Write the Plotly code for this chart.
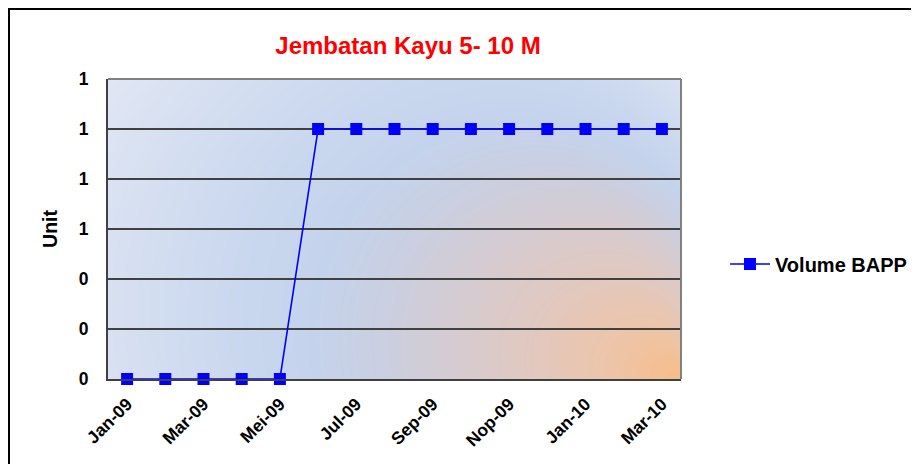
import base64, struct, zlib
import numpy as np
import plotly.graph_objects as go

# ---- data ----
months = ["Jan-09", "Feb-09", "Mar-09", "Apr-09", "Mei-09", "Jun-09", "Jul-09", "Agu-09",
          "Sep-09", "Okt-09", "Nop-09", "Des-09", "Jan-10", "Feb-10", "Mar-10"]
volume_bapp = [0, 0, 0, 0, 0, 1, 1, 1, 1, 1, 1, 1, 1, 1, 1]
shown_ticks = ["Jan-09", "Mar-09", "Mei-09", "Jul-09", "Sep-09", "Nop-09", "Jan-10", "Mar-10"]
y_tickvals = [0, 0.2, 0.4, 0.6, 0.8, 1.0, 1.2]

FONT = "Liberation Sans, Arial, sans-serif"

# plot area in figure pixels (page has an 8px body margin)
PL, PR, PT, PB = 100, 673, 71, 371
PW, PH = PR - PL, PB - PT

# ---- gradient background image (style only): radial gradient, focal point at bottom-right ----
W, H = PW, PH
xx, yy = np.meshgrid(np.arange(W) + 0.5, np.arange(H) + 0.5)
Fx, Fy = W, H
Ex, Ey = -282.0, -84.0
R = 374.0
Dx, Dy = xx - Fx, yy - Fy
DE = Dx * Ex + Dy * Ey
DD = Dx ** 2 + Dy ** 2
a = Ex ** 2 + Ey ** 2 - R ** 2
t = (DE - np.sqrt(DE ** 2 - a * DD)) / a
stops = [0.0, 0.1, 0.22, 0.34, 0.46, 0.56, 0.72, 0.9, 1.0]
cr = [247, 238, 226, 214, 202, 196, 204, 218, 226]
cg = [189, 196, 200, 203, 207, 211, 217, 226, 231]
cb = [136, 166, 190, 208, 225, 236, 239, 242, 244]
img = np.stack([np.interp(t, stops, cr), np.interp(t, stops, cg), np.interp(t, stops, cb)], axis=-1)
img = np.clip(np.round(img), 0, 255).astype(np.uint8)


def to_png(arr):
    h, w, _ = arr.shape
    raw = b"".join(b"\x00" + arr[i].tobytes() for i in range(h))

    def chunk(tag, data):
        c = struct.pack(">I", len(data)) + tag + data
        return c + struct.pack(">I", zlib.crc32(tag + data) & 0xffffffff)

    return (b"\x89PNG\r\n\x1a\n" + chunk(b"IHDR", struct.pack(">IIBBBBB", w, h, 8, 2, 0, 0, 0))
            + chunk(b"IDAT", zlib.compress(raw, 9)) + chunk(b"IEND", b""))


bg_src = "data:image/png;base64," + base64.b64encode(to_png(img)).decode()


def px(x):
    return (x - PL) / PW


def py(y):
    return (PB - y) / PH


fig = go.Figure()
fig.add_trace(go.Scatter(
    x=months, y=volume_bapp, mode="lines+markers", name="Volume BAPP",
    line=dict(color="#0000ff", width=1.6),
    marker=dict(symbol="square", size=12, color="#0000ff", line=dict(width=0)),
    cliponaxis=False,
))

fig.update_layout(
    width=919, height=464,
    margin=dict(l=PL, r=919 - PR, t=PT, b=464 - PB),
    paper_bgcolor="white", plot_bgcolor="rgba(0,0,0,0)",
    font=dict(family=FONT, color="black", size=17),
    title=dict(text="Jembatan Kayu 5- 10 M", x=px(400), xref="paper", xanchor="center",
               y=1 - 38 / 464, yref="container", yanchor="middle",
               font=dict(family=FONT, size=24, color="#ff0000", weight="bold")),
    showlegend=True,
    legend=dict(x=px(717), y=py(256), xanchor="left", yanchor="middle",
                bgcolor="rgba(0,0,0,0)", itemwidth=40,
                font=dict(family=FONT, size=20, color="black", weight="bold")),
    images=[dict(source=bg_src, xref="paper", yref="paper", x=0, y=1, sizex=1, sizey=1,
                 sizing="stretch", layer="below", xanchor="left", yanchor="top")],
    shapes=[dict(type="rect", xref="paper", yref="paper",
                 x0=px(1), x1=px(940), y0=py(480), y1=py(1),
                 line=dict(color="black", width=2), fillcolor="rgba(0,0,0,0)", layer="below"),
            dict(type="line", xref="paper", yref="paper", x0=0, x1=1, y0=1, y1=1,
                 line=dict(color="#808080", width=2)),
            dict(type="line", xref="paper", yref="paper", x0=1, x1=1, y0=0, y1=1,
                 line=dict(color="#808080", width=2))],
)

fig.update_xaxes(
    type="category", categoryorder="array", categoryarray=months,
    range=[-0.5, len(months) - 0.5],
    tickmode="array", tickvals=shown_ticks, ticktext=shown_ticks, tickangle=-45,
    tickfont=dict(family=FONT, size=17.5, color="black", weight="bold"),
    showgrid=False, showline=True, linecolor="#404040", linewidth=2,
    ticks="outside", ticklen=6, tickcolor="rgba(0,0,0,0)", zeroline=False,
)
fig.update_yaxes(
    range=[0, 1.2], tickmode="array", tickvals=y_tickvals, tickformat=".0f",
    tickfont=dict(family=FONT, size=17.5, color="black", weight="bold"),
    showgrid=True, gridcolor="#404040", gridwidth=1.6,
    showline=True, linecolor="#404040", linewidth=2, zeroline=False,
    ticks="outside", ticklen=14, tickcolor="rgba(0,0,0,0)",
    title=dict(text="Unit", standoff=16, font=dict(family=FONT, size=19.5, color="black", weight="bold")),
)

fig.write_html("out.html")
